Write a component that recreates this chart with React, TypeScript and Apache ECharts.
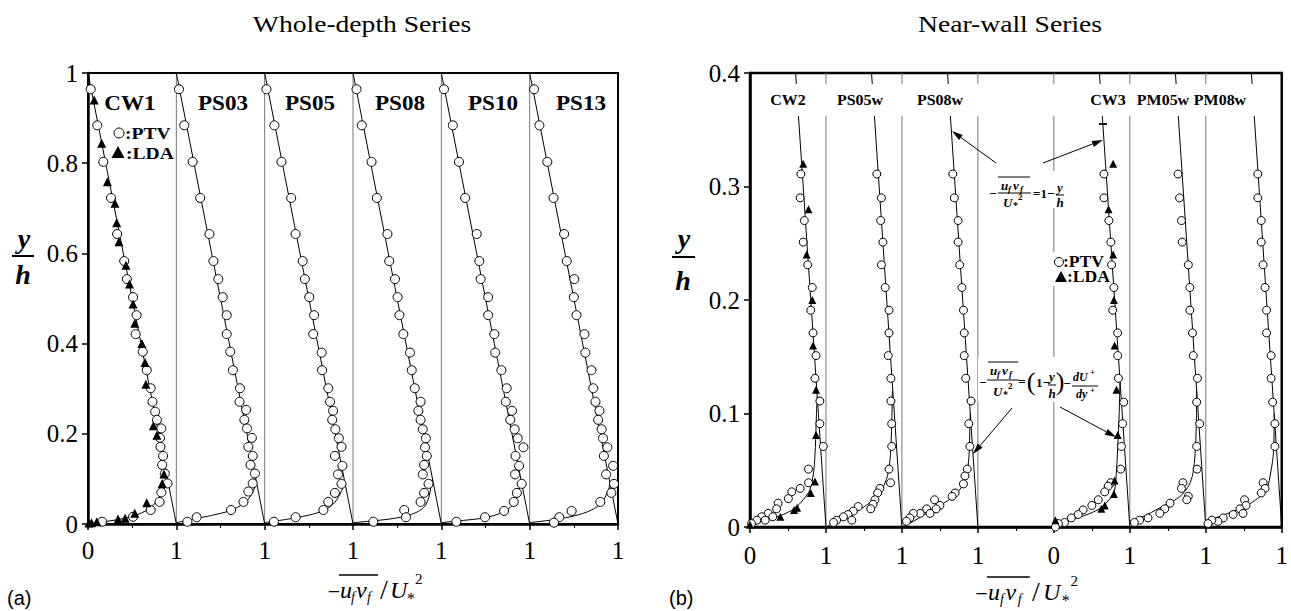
import React, { useEffect, useRef } from "react";
import * as echarts from "echarts";

// ---------- tick labels & names ----------
const leftXTickLabels = ["0", "1", "1", "1", "1", "1", "1"];
const rightXTickLabels = ["0", "1", "1", "1", "0", "1", "1", "1"];
const leftYTickLabels = ["0", "0.2", "0.4", "0.6", "0.8", "1"];
const rightYTickLabels = ["0", "0.1", "0.2", "0.3", "0.4"];
const leftNames = ["CW1", "PS03", "PS05", "PS08", "PS10", "PS13"];
const rightNames = ["CW2", "PS05w", "PS08w", "CW3", "PM05w", "PM08w"];
const leftOffsets = [0, 1, 2, 3, 4, 5];
const rightOffsets = [0, 1, 2, 4, 5, 6];
const leftBoundaries = [1, 2, 3, 4, 5];
const rightBoundaries = [1, 2, 3, 4, 5, 6];

// total shear stress line  -uv/U*^2 = 1 - y/h
const wholeDepthLine = [[0, 1], [1, 0]];
const nearWallLine = [[0.6, 0.4], [1, 0]];

// ---------- whole-depth series ----------
const cw1PTV = [[0.03,0.964],[0.105,0.884],[0.173,0.803],[0.26,0.723],[0.33,0.643],[0.41,0.583],[0.44,0.543],[0.51,0.503],[0.55,0.463],[0.54,0.421],[0.62,0.382],[0.665,0.341],[0.71,0.301],[0.73,0.271],[0.76,0.249],[0.78,0.231],[0.83,0.212],[0.815,0.191],[0.82,0.171],[0.85,0.151],[0.84,0.131],[0.87,0.112],[0.9,0.09],[0.83,0.07],[0.81,0.049],[0.71,0.031],[0.51,0.016],[0.16,0.005]];
const cw1LDA = [[0.07,0.94],[0.155,0.844],[0.22,0.759],[0.305,0.711],[0.325,0.668],[0.35,0.626],[0.43,0.574],[0.47,0.532],[0.51,0.488],[0.53,0.445],[0.61,0.4],[0.645,0.358],[0.655,0.31],[0.74,0.218],[0.78,0.197],[0.86,0.111],[0.84,0.09],[0.665,0.047],[0.53,0.024],[0.42,0.013],[0.34,0.011],[0.1,0.005],[0.04,0.003],[0.01,0.002]];
const cw1Curve = [[0,0],[0.1,0.003],[0.25,0.007],[0.4,0.012],[0.55,0.02],[0.66,0.03],[0.74,0.042],[0.8,0.056],[0.85,0.072],[0.88,0.088],[0.9,0.1]];

const ps03PTV = [[0.03,0.964],[0.09,0.884],[0.185,0.803],[0.27,0.723],[0.375,0.643],[0.42,0.583],[0.475,0.543],[0.525,0.503],[0.57,0.463],[0.57,0.421],[0.61,0.382],[0.64,0.341],[0.72,0.301],[0.715,0.271],[0.79,0.253],[0.77,0.231],[0.8,0.212],[0.855,0.191],[0.815,0.171],[0.865,0.151],[0.84,0.131],[0.89,0.112],[0.865,0.09],[0.815,0.072],[0.76,0.049],[0.62,0.031],[0.23,0.015],[0.125,0.005]];
const ps03Curve = [[0,0.003],[0.2,0.011],[0.4,0.019],[0.6,0.029],[0.72,0.04],[0.8,0.052],[0.86,0.068],[0.89,0.082],[0.91,0.09]];

const ps05PTV = [[0.02,0.964],[0.11,0.884],[0.19,0.803],[0.3,0.723],[0.35,0.643],[0.43,0.583],[0.455,0.543],[0.505,0.503],[0.56,0.463],[0.55,0.421],[0.645,0.38],[0.65,0.341],[0.72,0.301],[0.74,0.271],[0.775,0.251],[0.765,0.231],[0.8,0.21],[0.84,0.19],[0.87,0.171],[0.795,0.151],[0.88,0.129],[0.83,0.11],[0.87,0.089],[0.795,0.069],[0.72,0.049],[0.665,0.031],[0.35,0.015],[0.105,0.005]];
const ps05Curve = [[0,0.003],[0.3,0.012],[0.55,0.022],[0.7,0.033],[0.79,0.047],[0.85,0.065],[0.89,0.082],[0.91,0.09]];

const ps08PTV = [[0.04,0.964],[0.1,0.884],[0.21,0.803],[0.27,0.723],[0.39,0.643],[0.41,0.583],[0.475,0.543],[0.505,0.503],[0.525,0.463],[0.57,0.421],[0.645,0.38],[0.665,0.341],[0.7,0.301],[0.765,0.271],[0.74,0.251],[0.765,0.231],[0.79,0.21],[0.825,0.19],[0.815,0.17],[0.835,0.151],[0.805,0.131],[0.79,0.11],[0.855,0.089],[0.805,0.069],[0.765,0.049],[0.58,0.031],[0.6,0.015],[0.23,0.005]];
const ps08Curve = [[0,0.003],[0.23,0.007],[0.45,0.012],[0.62,0.019],[0.74,0.028],[0.815,0.04],[0.86,0.06],[0.88,0.08],[0.9,0.1]];

const ps10PTV = [[0.03,0.964],[0.13,0.884],[0.2,0.803],[0.27,0.723],[0.4,0.643],[0.43,0.583],[0.445,0.543],[0.53,0.503],[0.53,0.463],[0.6,0.421],[0.61,0.38],[0.68,0.341],[0.74,0.301],[0.73,0.271],[0.8,0.251],[0.78,0.231],[0.83,0.21],[0.865,0.19],[0.93,0.17],[0.84,0.151],[0.88,0.129],[0.835,0.11],[0.91,0.089],[0.855,0.069],[0.82,0.049],[0.71,0.029],[0.495,0.015],[0.17,0.005]];
const ps10Curve = [[0,0.003],[0.25,0.008],[0.47,0.013],[0.63,0.021],[0.74,0.031],[0.82,0.045],[0.86,0.06],[0.89,0.083],[0.905,0.095]];

const ps13PTV = [[0.05,0.964],[0.11,0.884],[0.2,0.803],[0.27,0.723],[0.39,0.643],[0.42,0.583],[0.505,0.543],[0.5,0.503],[0.53,0.463],[0.62,0.421],[0.63,0.38],[0.7,0.341],[0.72,0.301],[0.745,0.271],[0.79,0.251],[0.775,0.231],[0.815,0.21],[0.83,0.19],[0.88,0.17],[0.84,0.151],[0.945,0.129],[0.865,0.11],[0.955,0.089],[0.925,0.069],[0.8,0.049],[0.475,0.029],[0.335,0.015],[0.275,0.003]];
const ps13Curve = [[0,0.003],[0.25,0.009],[0.46,0.016],[0.64,0.026],[0.76,0.038],[0.84,0.055],[0.89,0.075],[0.91,0.09]];

// ---------- near-wall series ----------
const cw2PTV = [[0.67,0.311],[0.66,0.29],[0.715,0.27],[0.7,0.251],[0.76,0.231],[0.82,0.211],[0.8,0.191],[0.83,0.171],[0.87,0.151],[0.855,0.131],[0.92,0.111],[0.92,0.091],[0.965,0.071],[0.77,0.051],[0.77,0.039],[0.66,0.034],[0.55,0.031],[0.505,0.025],[0.37,0.021],[0.35,0.016],[0.24,0.012],[0.3,0.009],[0.155,0.009],[0.2,0.006],[0.09,0.006],[0.02,0.003]];
const cw2LDA = [[0.7,0.32],[0.77,0.28],[0.745,0.24],[0.82,0.2],[0.83,0.16],[0.87,0.121],[0.87,0.081],[0.855,0.04],[0.8,0.03],[0.62,0.017],[0.58,0.015],[0.4,0.009],[0.0,0.002]];
const cw2Curve = [[0,0],[0.2,0.006],[0.4,0.01],[0.58,0.016],[0.7,0.024],[0.79,0.033],[0.84,0.05],[0.86,0.07],[0.875,0.1],[0.885,0.115]];

const ps05wPTV = [[0.67,0.311],[0.73,0.29],[0.72,0.27],[0.75,0.251],[0.73,0.231],[0.78,0.211],[0.83,0.191],[0.83,0.171],[0.82,0.151],[0.855,0.131],[0.855,0.111],[0.865,0.091],[0.865,0.071],[0.83,0.051],[0.85,0.039],[0.71,0.034],[0.68,0.03],[0.645,0.024],[0.62,0.02],[0.59,0.016],[0.425,0.018],[0.36,0.014],[0.29,0.011],[0.23,0.009],[0.34,0.006],[0.14,0.006],[0.1,0.004]];
const ps05wCurve = [[0,0],[0.15,0.005],[0.36,0.012],[0.55,0.02],[0.67,0.027],[0.76,0.036],[0.82,0.048],[0.85,0.065],[0.865,0.09],[0.875,0.12]];

const ps08wPTV = [[0.67,0.311],[0.69,0.29],[0.74,0.27],[0.74,0.251],[0.76,0.231],[0.79,0.211],[0.81,0.191],[0.82,0.171],[0.82,0.151],[0.84,0.131],[0.91,0.111],[0.88,0.091],[0.895,0.071],[0.86,0.051],[0.83,0.045],[0.81,0.038],[0.7,0.03],[0.66,0.027],[0.43,0.024],[0.5,0.019],[0.45,0.016],[0.325,0.016],[0.37,0.012],[0.24,0.012],[0.15,0.012],[0.105,0.008],[0.06,0.005]];
const ps08wCurve = [[0,0],[0.15,0.005],[0.3,0.011],[0.5,0.019],[0.68,0.027],[0.8,0.037],[0.86,0.05],[0.885,0.065],[0.895,0.09],[0.9,0.1]];

const cw3PTV = [[0.66,0.311],[0.66,0.29],[0.725,0.27],[0.75,0.251],[0.76,0.231],[0.79,0.211],[0.775,0.191],[0.84,0.171],[0.84,0.151],[0.85,0.131],[0.92,0.11],[0.905,0.091],[0.89,0.071],[0.88,0.051],[0.75,0.039],[0.715,0.036],[0.67,0.031],[0.585,0.024],[0.5,0.019],[0.385,0.015],[0.32,0.011],[0.23,0.008],[0.14,0.004],[0.06,0.003],[0.02,0.0]];
const cw3LDA = [[0.78,0.32],[0.72,0.28],[0.78,0.24],[0.79,0.2],[0.8,0.16],[0.825,0.121],[0.84,0.081],[0.8,0.041],[0.79,0.029],[0.67,0.019],[0.625,0.016],[0.02,0.006]];
const cw3Curve = [[0,0],[0.2,0.006],[0.4,0.01],[0.6,0.016],[0.7,0.022],[0.79,0.03],[0.82,0.045],[0.84,0.07],[0.86,0.1],[0.87,0.13]];

const pm05wPTV = [[0.635,0.311],[0.655,0.29],[0.68,0.27],[0.69,0.251],[0.77,0.231],[0.79,0.211],[0.79,0.191],[0.825,0.171],[0.835,0.151],[0.89,0.131],[0.88,0.11],[0.92,0.091],[0.88,0.071],[0.885,0.051],[0.7,0.039],[0.68,0.034],[0.77,0.027],[0.75,0.024],[0.53,0.021],[0.46,0.016],[0.395,0.012],[0.24,0.008],[0.13,0.006],[0.06,0.004]];
const pm05wCurve = [[0,0.005],[0.2,0.01],[0.37,0.016],[0.55,0.022],[0.68,0.028],[0.78,0.037],[0.83,0.047],[0.86,0.065],[0.875,0.09],[0.88,0.12]];

const pm08wPTV = [[0.685,0.311],[0.685,0.29],[0.73,0.27],[0.73,0.251],[0.755,0.231],[0.78,0.211],[0.8,0.191],[0.8,0.171],[0.86,0.151],[0.86,0.131],[0.88,0.11],[0.91,0.091],[0.91,0.071],[0.755,0.039],[0.78,0.034],[0.73,0.03],[0.51,0.024],[0.53,0.019],[0.45,0.016],[0.49,0.012],[0.36,0.011],[0.23,0.008],[0.16,0.005],[0.08,0.006],[0.03,0.003]];
const pm08wCurve = [[0,0.005],[0.25,0.011],[0.51,0.018],[0.68,0.025],[0.8,0.033],[0.86,0.05],[0.89,0.065],[0.9,0.09],[0.9,0.1]];

const leftProfiles = [
  { ptv: cw1PTV, lda: cw1LDA, curve: cw1Curve },
  { ptv: ps03PTV, lda: null, curve: ps03Curve },
  { ptv: ps05PTV, lda: null, curve: ps05Curve },
  { ptv: ps08PTV, lda: null, curve: ps08Curve },
  { ptv: ps10PTV, lda: null, curve: ps10Curve },
  { ptv: ps13PTV, lda: null, curve: ps13Curve },
];
const rightProfiles = [
  { ptv: cw2PTV, lda: cw2LDA, curve: cw2Curve },
  { ptv: ps05wPTV, lda: null, curve: ps05wCurve },
  { ptv: ps08wPTV, lda: null, curve: ps08wCurve },
  { ptv: cw3PTV, lda: cw3LDA, curve: cw3Curve },
  { ptv: pm05wPTV, lda: null, curve: pm05wCurve },
  { ptv: pm08wPTV, lda: null, curve: pm08wCurve },
];

// ---------- layout (pixels) ----------
const GL = { left: 88, top: 73, width: 530, height: 451 };
const GR = { left: 750, top: 73, width: 532, height: 454 };
const leftLabelX = [130, 223, 310, 400, 493, 581];
const rightLabelX = [788, 860, 940, 1108, 1163, 1220];

const SERIF = "Liberation Serif";
const SANS = "Liberation Sans";

function shift(arr: number[][], off: number) {
  return arr.map((p) => [p[0] + off, p[1]]);
}

function txt(text: string, x: number, y: number, o: any = {}) {
  return {
    type: "text",
    x,
    y,
    z: 110,
    scaleX: o.sx ?? 1,
    style: {
      text,
      fill: "#000",
      fontFamily: o.family ?? SERIF,
      fontSize: o.size ?? 14,
      fontWeight: o.bold ? "bold" : "normal",
      fontStyle: o.italic ? "italic" : "normal",
      textAlign: o.align ?? "left",
      align: o.align ?? "left",
      textVerticalAlign: "middle",
      verticalAlign: "middle",
    },
  };
}

function seg(x1: number, y1: number, x2: number, y2: number, w = 1, color = "#000") {
  return { type: "line", z: 110, shape: { x1, y1, x2, y2 }, style: { stroke: color, lineWidth: w } };
}

function whiteRect(x: number, y: number, w: number, h: number) {
  return { type: "rect", z: 100, shape: { x, y, width: w, height: h }, style: { fill: "#fff" } };
}

function arrow(x1: number, y1: number, x2: number, y2: number) {
  const dx = x2 - x1, dy = y2 - y1;
  const L = Math.hypot(dx, dy);
  const ux = dx / L, uy = dy / L;
  const len = 11, hw = 3.2;
  const bx = x2 - ux * len, by = y2 - uy * len;
  return [
    seg(x1, y1, bx, by, 1),
    {
      type: "polygon",
      z: 110,
      shape: { points: [[x2, y2], [bx - uy * hw, by + ux * hw], [bx + uy * hw, by - ux * hw]] },
      style: { fill: "#000" },
    },
  ];
}

function xTitle(x0: number, yc: number, s: number) {
  const X = (d: number) => x0 + d * s;
  return [
    txt("\u2212", X(4), yc + 1, { size: 22, align: "center" }),
    txt("u", X(10), yc, { size: 24, italic: true }),
    txt("f", X(21), yc + 7, { size: 14, italic: true }),
    txt("v", X(26), yc, { size: 24, italic: true }),
    txt("f", X(37), yc + 7, { size: 14, italic: true }),
    seg(X(9), yc - 15, X(48), yc - 15, 1.3),
    txt("/", X(50), yc - 1, { size: 28 }),
    txt("U", X(60), yc, { size: 24, italic: true }),
    txt("*", X(77), yc + 8, { size: 16 }),
    txt("2", X(85), yc - 11, { size: 15 }),
  ];
}

function buildGraphics() {
  const g: any[] = [];
  // titles
  g.push(txt("Whole-depth Series", 362, 24, { size: 23, align: "center", sx: 1.2 }));
  g.push(txt("Near-wall Series", 1010, 24, { size: 23, align: "center", sx: 1.2 }));
  // y/h labels
  g.push(txt("y", 24, 238, { size: 28, bold: true, italic: true, align: "center" }));
  g.push(seg(12, 256, 34, 256, 2));
  g.push(txt("h", 23, 274, { size: 28, bold: true, italic: true, align: "center" }));
  g.push(txt("y", 684, 238, { size: 28, bold: true, italic: true, align: "center" }));
  g.push(seg(672, 257, 695, 257, 2));
  g.push(txt("h", 683, 280, { size: 28, bold: true, italic: true, align: "center" }));
  // panel tags
  g.push(txt("(a)", 7, 598, { size: 20, family: SANS }));
  g.push(txt("(b)", 669, 598, { size: 20, family: SANS }));
  // x titles
  g.push(...xTitle(330, 590, 1.0));
  g.push(...xTitle(977, 592, 1.1));
  // profile names
  leftNames.forEach((n, i) => g.push(txt(n, leftLabelX[i], 103, { size: 21, bold: true, align: "center", sx: 1.1 })));
  g.push(whiteRect(752, 84, 528, 32));
  rightNames.forEach((n, i) => g.push(txt(n, rightLabelX[i], 100, { size: 15.5, bold: true, align: "center", sx: 1.03 })));
  g.push(seg(1099, 124, 1107, 124, 1.8));
  // legend left
  g.push({ type: "circle", z: 110, shape: { cx: 119, cy: 133, r: 5 }, style: { fill: "#fff", stroke: "#000", lineWidth: 1 } });
  g.push(txt(":PTV", 125, 133, { size: 17, bold: true, sx: 1.15 }));
  g.push({ type: "polygon", z: 110, shape: { points: [[118, 146], [111.5, 158], [124.5, 158]] }, style: { fill: "#000" } });
  g.push(txt(":LDA", 126, 153, { size: 17, bold: true, sx: 1.15 }));
  // legend right
  g.push(whiteRect(1049, 252, 52, 34));
  g.push({ type: "circle", z: 110, shape: { cx: 1059, cy: 262, r: 4.5 }, style: { fill: "#fff", stroke: "#000", lineWidth: 1 } });
  g.push(txt(":PTV", 1063, 262, { size: 16, bold: true, sx: 1.1 }));
  g.push({ type: "polygon", z: 110, shape: { points: [[1061, 271], [1055, 282], [1067, 282]] }, style: { fill: "#000" } });
  g.push(txt(":LDA", 1067, 277, { size: 16, bold: true, sx: 1.1 }));
  // equation 1 : -uv/U*^2 = 1 - y/h
  const bi = { size: 13, bold: true, italic: true };
  const sb = { size: 9, bold: true, italic: true };
  g.push(whiteRect(985, 171, 82, 37));
  g.push(txt("\u2212", 993, 193, { size: 13, bold: true, align: "center" }));
  g.push(seg(998, 177, 1030, 177, 1));
  g.push(txt("u", 1001, 185, bi), txt("f", 1008, 189, sb), txt("v", 1013, 185, bi), txt("f", 1020, 189, sb));
  g.push(seg(998, 193, 1031, 193, 1));
  g.push(txt("U", 1003, 202, bi), txt("*", 1013, 205, { size: 10, bold: true }), txt("2", 1018, 197, { size: 9, bold: true }));
  g.push(txt("=1\u2212", 1033, 193, { size: 13, bold: true }));
  g.push(txt("y", 1060, 187, { ...bi, align: "center" }), seg(1056, 195, 1064, 195, 1), txt("h", 1060, 202, { ...bi, align: "center" }));
  // equation 2 : -uv/U*^2 = (1 - y/h) - dU+/dy+
  g.push(whiteRect(978, 357, 130, 45));
  g.push(txt("\u2212", 983, 382, { size: 13, bold: true, align: "center" }));
  g.push(seg(988, 362, 1018, 362, 1));
  g.push(txt("u", 990, 370, bi), txt("f", 997, 374, sb), txt("v", 1002, 370, bi), txt("f", 1009, 374, sb));
  g.push(seg(987, 380, 1019, 380, 1));
  g.push(txt("U", 993, 391, bi), txt("*", 1003, 394, { size: 10, bold: true }), txt("2", 1008, 386, { size: 9, bold: true }));
  g.push(txt("=", 1022, 381, { size: 13, bold: true, align: "center" }));
  g.push(txt("(", 1031, 381, { size: 26, align: "center" }));
  g.push(txt("1\u2212", 1036, 382, { size: 13, bold: true }));
  g.push(txt("y", 1052, 376, { ...bi, align: "center" }), seg(1048, 385, 1056, 385, 1), txt("h", 1052, 393, { ...bi, align: "center" }));
  g.push(txt(")", 1060, 381, { size: 26, align: "center" }));
  g.push(txt("\u2212", 1067, 383, { size: 13, bold: true, align: "center" }));
  g.push(txt("dU", 1073, 377, { size: 12, bold: true, italic: true }), txt("+", 1090, 372, { size: 9, bold: true }));
  g.push(seg(1072, 386, 1098, 386, 1));
  g.push(txt("dy", 1076, 394, { size: 12, bold: true, italic: true }), txt("+", 1090, 390, { size: 9, bold: true }));
  // arrows
  g.push(...arrow(996, 163, 952, 131));
  g.push(...arrow(1043, 163, 1103, 140));
  g.push(...arrow(1012, 408, 973, 454));
  g.push(...arrow(1060, 407, 1116, 437));
  return g;
}

function profileSeries(axis: number, off: number, line: number[][], p: any, size: number) {
  const s: any[] = [
    { type: "line", xAxisIndex: axis, yAxisIndex: axis, data: shift(line, off), symbol: "none", lineStyle: { color: "#000", width: 1 }, z: 2, silent: true },
    { type: "line", xAxisIndex: axis, yAxisIndex: axis, data: shift(p.curve, off), symbol: "none", smooth: 0.3, lineStyle: { color: "#000", width: 1 }, z: 2, silent: true },
    { type: "scatter", xAxisIndex: axis, yAxisIndex: axis, data: shift(p.ptv, off), symbol: "circle", symbolSize: size, itemStyle: { color: "#fff", borderColor: "#000", borderWidth: 1, opacity: 1 }, z: 3 },
  ];
  if (p.lda) {
    s.push({ type: "scatter", xAxisIndex: axis, yAxisIndex: axis, data: shift(p.lda, off), symbol: "triangle", symbolSize: size, itemStyle: { color: "#000", opacity: 1 }, z: 4 });
  }
  return s;
}

function boundarySeries(axis: number, ks: number[], ymax: number) {
  return ks.map((k) => ({
    type: "line", xAxisIndex: axis, yAxisIndex: axis, data: [[k, 0], [k, ymax]], symbol: "none",
    lineStyle: { color: "#777", width: 1 }, z: 1, silent: true,
  }));
}

function xAxisCfg(grid: number, max: number, labels: string[], margin: number) {
  return {
    gridIndex: grid, type: "value", min: 0, max, interval: 1,
    axisLine: { show: true, onZero: false, lineStyle: { color: "#000", width: 2.5 } },
    axisTick: { show: true, length: 6, lineStyle: { color: "#000", width: 1.5 } },
    minorTick: { show: true, splitNumber: 2, length: 4, lineStyle: { color: "#000", width: 1 } },
    splitLine: { show: false },
    axisLabel: { formatter: (v: number) => labels[Math.round(v)] ?? "", fontFamily: SERIF, fontSize: 25, color: "#000", margin },
  };
}

function yAxisCfg(grid: number, max: number, step: number, labels: string[]) {
  return {
    gridIndex: grid, type: "value", min: 0, max, interval: step,
    axisLine: { show: true, onZero: false, lineStyle: { color: "#000", width: 2.5 } },
    axisTick: { show: true, length: 6, lineStyle: { color: "#000", width: 1.5 } },
    splitLine: { show: false },
    axisLabel: { formatter: (v: number) => labels[Math.round(v / step)] ?? "", fontFamily: SERIF, fontSize: 25, color: "#000", margin: 10 },
  };
}

export default function App() {
  const ref = useRef<HTMLDivElement>(null);
  useEffect(() => {
    if (!ref.current) return;
    const chart = echarts.init(ref.current, null, { renderer: "svg" });
    const series: any[] = [];
    series.push(...boundarySeries(0, leftBoundaries, 1));
    series.push(...boundarySeries(1, rightBoundaries, 0.4));
    leftProfiles.forEach((p, i) => series.push(...profileSeries(0, leftOffsets[i], wholeDepthLine, p, 9)));
    rightProfiles.forEach((p, i) => series.push(...profileSeries(1, rightOffsets[i], nearWallLine, p, 8)));
    chart.setOption({
      animation: false,
      backgroundColor: "#fff",
      textStyle: { fontFamily: SERIF },
      grid: [
        { ...GL, show: true, borderColor: "#000", borderWidth: 2, backgroundColor: "transparent" },
        { ...GR, show: true, borderColor: "#000", borderWidth: 2.5, backgroundColor: "transparent" },
      ],
      xAxis: [xAxisCfg(0, 6, leftXTickLabels, 14), xAxisCfg(1, 7, rightXTickLabels, 16)],
      yAxis: [yAxisCfg(0, 1, 0.2, leftYTickLabels), yAxisCfg(1, 0.4, 0.1, rightYTickLabels)],
      series,
      graphic: { elements: buildGraphics() },
    });
    return () => chart.dispose();
  }, []);
  return <div ref={ref} style={{ position: "absolute", left: 0, top: 0, width: 1291, height: 611 }} />;
}
